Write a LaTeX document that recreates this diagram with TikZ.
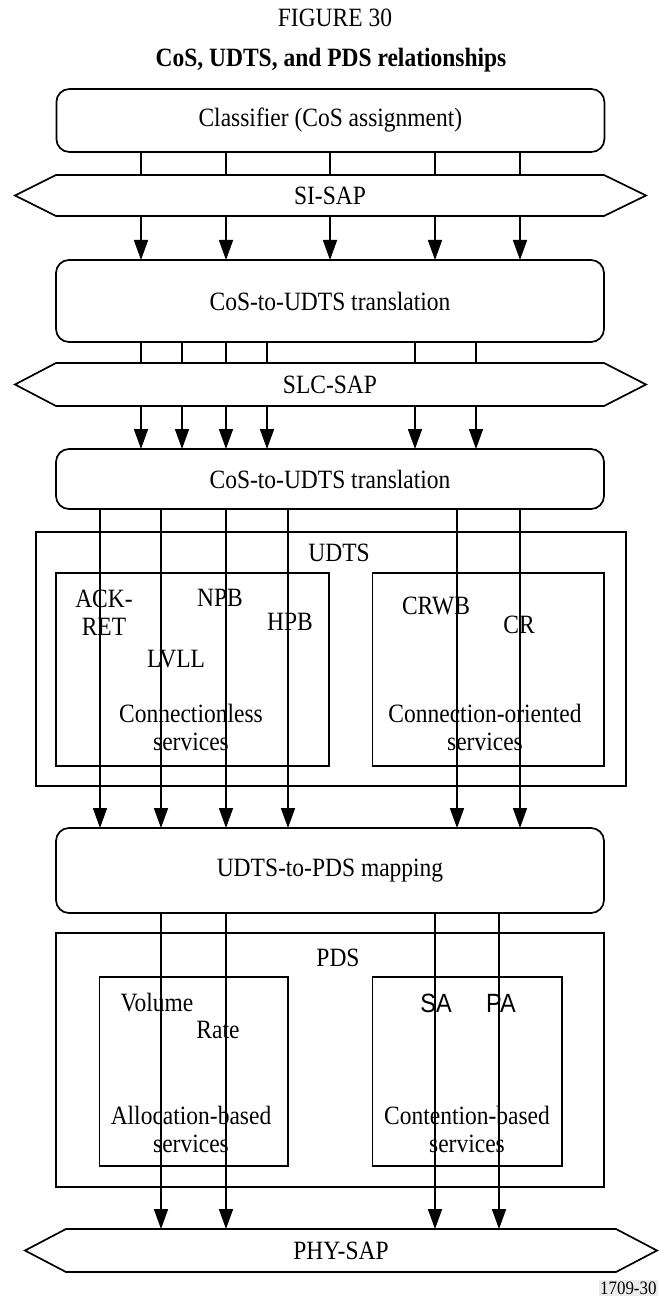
\documentclass[tikz,border=0pt]{standalone}
\usepackage{fontspec}
\setmainfont[FakeStretch=0.89]{Liberation Serif}
\newfontfamily\arialf[FakeStretch=0.89]{Liberation Sans}
\usetikzlibrary{arrows.meta,calc}
\begin{document}
\begin{tikzpicture}[x=1pt,y=-1pt,
  every node/.style={font=\fontsize{26.4}{28}\selectfont, inner sep=0pt, outer sep=0pt},
  rbox/.style={draw, line width=1.7pt, rounded corners=13pt, minimum width=548pt},
  pbox/.style={draw, line width=1.7pt},
  sap/.style={minimum width=548pt},
  ln/.style={line width=1.7pt},
  arr/.style={line width=1.7pt, -{Triangle[length=20pt,width=14pt]}},
  txt/.style={align=center}
]
\useasboundingbox (0,0) rectangle (658,1297);

% titles
\node (fig) at (335,18) {FIGURE 30};
\node[font=\fontsize{26.4}{28}\selectfont\bfseries] (title) at (331,60) {CoS, UDTS, and PDS relationships};

% column coordinates
\coordinate (pA1) at (141,0); \coordinate (pA2) at (226,0); \coordinate (pA3) at (330,0);
\coordinate (pA4) at (435,0); \coordinate (pA5) at (520,0);
\coordinate (pB1) at (141,0); \coordinate (pB2) at (182,0); \coordinate (pB3) at (226,0);
\coordinate (pB4) at (267,0); \coordinate (pB5) at (415,0); \coordinate (pB6) at (476,0);
\coordinate (pC1) at (100,0); \coordinate (pC2) at (161,0); \coordinate (pC3) at (226,0);
\coordinate (pC4) at (288,0); \coordinate (pC5) at (457,0); \coordinate (pC6) at (520,0);
\coordinate (pD1) at (161,0); \coordinate (pD2) at (226,0); \coordinate (pD3) at (435,0);
\coordinate (pD4) at (499,0);

% main boxes
\node[rbox, minimum height=63pt] (cls) at (330.4,120.5) {Classifier (CoS assignment)};
\node[sap, minimum height=41pt] (sisap) at (330,195.5) {SI-SAP};
\node[rbox, minimum height=82pt] (cos1) at (330,301) {CoS-to-UDTS translation};
\node[sap, minimum height=43pt] (slcsap) at (330,384.5) {SLC-SAP};
\node[rbox, minimum height=60pt] (cos2) at (330,479) {CoS-to-UDTS translation};
\node[rbox, minimum height=85pt] (map) at (330,870.5) {UDTS-to-PDS mapping};
\node[sap, minimum width=550pt, minimum height=43pt] (physap) at (341,1250.5) {PHY-SAP};

% SAP hexagons
\foreach \s/\l/\r in {sisap/41/42, slcsap/41/42, physap/41/41}{
  \draw[ln] (\s.north west) -- (\s.north east) -- ($(\s.east)+(\r,0)$) -- (\s.south east)
    -- (\s.south west) -- ($(\s.west)+(-\l,0)$) -- cycle;
}

% UDTS group
\node[pbox, minimum width=590pt, minimum height=254pt] (udts) at (330.9,659) {};
\node (udtsl) at (339,553) {UDTS};
\node[pbox, minimum width=273pt, minimum height=193pt] (cl) at (192.4,669.5) {};
\node[pbox, minimum width=231.4pt, minimum height=193pt] (co) at (488.3,669.5) {};
\node[txt] (ackret) at (104,613) {ACK-\\RET};
\node (npb) at (220,598) {NPB};
\node (hpb) at (290,622) {HPB};
\node (lvll) at (176,659) {LVLL};
\node[txt] (cltxt) at (191,727) {Connectionless\\services};
\node (crwb) at (436,606) {CRWB};
\node (cr) at (519,625) {CR};
\node[txt] (cotxt) at (485,727) {Connection-oriented\\services};

% PDS group
\node[pbox, minimum width=548pt, minimum height=254pt] (pds) at (330,1060) {};
\node (pdsl) at (338,958) {PDS};
\node[pbox, minimum width=188.5pt, minimum height=189pt] (ab) at (193.75,1071.5) {};
\node[pbox, minimum width=189.4pt, minimum height=189pt] (cb) at (467.3,1071.5) {};
\node (vol) at (157,1003) {Volume};
\node (rate) at (218,1030) {Rate};
\node[font=\fontsize{26.4}{28}\arialf] (sa) at (436,1003) {SA};
\node[font=\fontsize{26.4}{28}\arialf] (pa) at (501,1003) {PA};
\node[txt] (abtxt) at (191,1129) {Allocation-based\\services};
\node[txt] (cbtxt) at (467,1129) {Contention-based\\services};

% connectors
\foreach \c in {pA1,pA2,pA3,pA4,pA5}{
  \draw[ln] (cls.south -| \c) -- (sisap.north -| \c);
  \draw[arr] (sisap.south -| \c) -- (cos1.north -| \c);
}
\foreach \c in {pB1,pB2,pB3,pB4,pB5,pB6}{
  \draw[ln] (cos1.south -| \c) -- (slcsap.north -| \c);
  \draw[arr] (slcsap.south -| \c) -- (cos2.north -| \c);
}
\foreach \c in {pC1,pC2,pC3,pC4,pC5,pC6}{
  \draw[arr] (cos2.south -| \c) -- (map.north -| \c);
}
\foreach \c in {pD1,pD2,pD3,pD4}{
  \draw[arr] (map.south -| \c) -- (physap.north -| \c);
}

% figure code
\node[fill=gray!15, inner sep=1.5pt, anchor=east, font=\fontsize{19}{20}\selectfont] (code) at (658,1288) {1709-30};
\end{tikzpicture}
\end{document}
